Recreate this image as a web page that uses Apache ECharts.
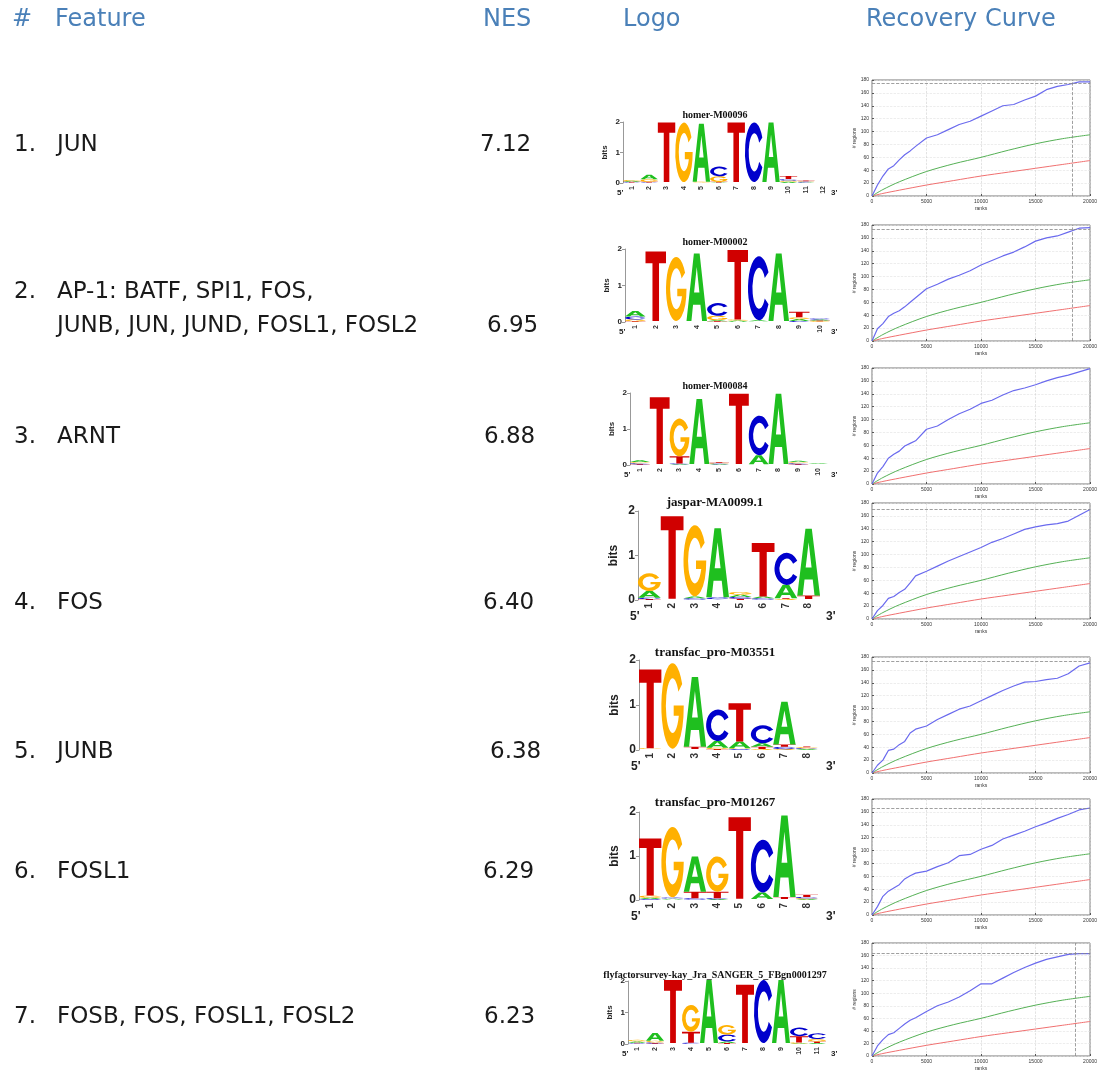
<!DOCTYPE html>
<html><head><meta charset="utf-8">
<script src="https://cdn.jsdelivr.net/npm/echarts@6/dist/echarts.min.js"></script>
<style>html,body{margin:0;padding:0;background:#fff}#c{width:1100px;height:1072px}</style>
</head><body><div id="c"></div>
<script>
// ---------------- DATA ----------------
const headers = ['#', 'Feature', 'NES', 'Logo', 'Recovery Curve'];
const rankLabels = ['1.', '2.', '3.', '4.', '5.', '6.', '7.'];
const features = [
  ['JUN'],
  ['AP-1: BATF, SPI1, FOS,', 'JUNB, JUN, JUND, FOSL1, FOSL2'],
  ['ARNT'],
  ['FOS'],
  ['JUNB'],
  ['FOSL1'],
  ['FOSB, FOS, FOSL1, FOSL2']
];
const nes = ['7.12', '6.95', '6.88', '6.40', '6.38', '6.29', '6.23'];
const motifTitles = ['homer-M00096', 'homer-M00002', 'homer-M00084', 'jaspar-MA0099.1',
  'transfac_pro-M03551', 'transfac_pro-M01267', 'flyfactorsurvey-kay_Jra_SANGER_5_FBgn0001297'];

// motif logos: information (bits) per position, columns [A, C, G, T]
const logo1 = [[0.03,0.02,0.03,0.02],[0.15,0.02,0.08,0.02],[0.01,0.01,0.01,1.95],[0.01,0.01,1.95,0.01],
  [1.9,0.01,0.02,0.01],[0.02,0.32,0.18,0.02],[0.01,0.01,0.01,1.95],[0.01,1.95,0.01,0.01],
  [1.95,0.01,0.01,0.01],[0.04,0.05,0.04,0.1],[0.02,0.02,0.02,0.02],[0.01,0.01,0.01,0.01]];
const logo2 = [[0.15,0.08,0.05,0.02],[0.01,0.01,0.01,1.9],[0.01,0.01,1.75,0.01],[1.85,0.01,0.01,0.01],
  [0.03,0.35,0.12,0.02],[0.03,0.01,0.03,1.9],[0.03,1.75,0.01,0.01],[1.85,0.01,0.01,0.01],
  [0.05,0.03,0.05,0.15],[0.03,0.03,0.02,0.02]];
const logo3 = [[0.05,0.03,0.03,0.02],[0.01,0.01,0.01,1.85],[0.02,0.02,1.05,0.2],[1.8,0.01,0.01,0.01],
  [0.02,0.02,0.02,0.02],[0.01,0.01,0.01,1.95],[0.25,1.1,0.01,0.01],[1.95,0.01,0.01,0.01],
  [0.04,0.03,0.03,0.02],[0.02,0.01,0.01,0.01]];
const logo4 = [[0.15,0.03,0.4,0.02],[0.01,0.01,0.01,1.85],[0.04,0.03,1.6,0.01],[1.55,0.04,0.01,0.01],
  [0.05,0.04,0.06,0.03],[0.04,0.03,0.01,1.2],[0.3,0.72,0.02,0.02],[1.5,0.01,0.01,0.08]];
const logo5 = [[0.01,0.01,0.02,1.75],[0.01,0.01,1.9,0.01],[1.55,0.01,0.01,0.05],[0.15,0.7,0.03,0.02],
  [0.15,0.02,0.02,0.85],[0.08,0.4,0.02,0.05],[0.95,0.05,0.02,0.05],[0.02,0.02,0.02,0.02]];
const logo6 = [[0.03,0.02,0.05,1.3],[0.02,0.03,1.6,0.01],[0.8,0.03,0.01,0.15],[0.02,0.02,0.8,0.15],
  [0.01,0.01,0.01,1.85],[0.15,1.2,0.01,0.01],[1.85,0.01,0.01,0.05],[0.02,0.03,0.02,0.05]];
const logo7 = [[0.04,0.02,0.05,0.02],[0.25,0.03,0.05,0.02],[0.01,0.01,0.01,2.0],[0.01,0.03,0.85,0.35],
  [2.0,0.01,0.01,0.01],[0.05,0.22,0.3,0.03],[0.01,0.01,0.01,1.85],[0.01,2.0,0.01,0.01],
  [2.0,0.01,0.01,0.01],[0.02,0.27,0.03,0.2],[0.03,0.18,0.08,0.05]];

// recovery curves (# regions recovered vs rank)
const rankPts = [0,500,1000,1500,2000,2500,3000,3500,4000,5000,6000,7000,8000,9000,10000,
  11000,12000,13000,14000,15000,16000,17000,18000,19000,20000];
const curve1 = [0,17,31,42,47,56,64,70,77,90,95,103,111,116,124,132,140,142,149,155,165,170,173,177,177];
const curve2 = [0,19,27,38,43,47,53,60,67,81,88,96,102,109,118,125,132,138,146,155,160,163,169,175,176];
const curve3 = [0,17,27,40,46,51,59,63,67,85,90,100,109,116,125,130,138,145,149,154,160,165,169,174,179];
const curve4 = [0,13,21,32,35,41,46,56,67,74,82,90,97,104,111,119,125,132,139,143,146,148,152,161,170];
const curve5 = [0,12,20,35,37,44,49,62,68,73,83,91,99,104,112,120,128,135,141,142,145,147,154,166,171];
const curve6 = [0,13,29,37,42,47,56,61,65,68,75,81,92,94,102,108,118,124,130,137,143,150,156,163,166];
const curve7 = [0,16,26,34,37,44,51,57,61,71,80,86,94,104,115,115,124,133,141,148,154,158,162,163,163];
const bgRanks = [0,1000,2500,5000,7500,10000,12500,15000,17500,20000];
const meanPlus2sd = [0,10,22,38,50,60,71,81,89,95];
const meanCurve = [0,4,9,17,24,31,37,43,49,55];
const maxRegions = [175,174,null,171,173,166,163];
const maxRank = [18400,18400,null,null,null,null,18600];
const rankTicks = ['0','5000','10000','15000','20000'];

// ---------------- LAYOUT / STYLE ----------------
const LETTER_COLORS = ['#1fbf1f', '#0000cc', '#ffb000', '#d00000'];
const LETTER_PATHS = [
  'M36,0 L64,0 L100,100 L76,100 L68,76 L32,76 L24,100 L0,100 Z M37,58 L63,58 L50,20 Z',
  'M93,25 A50,50 0 1 0 93,75 L76,66 A30,32 0 1 1 76,34 Z',
  'M93,25 A50,50 0 1 0 100,50 L55,50 L55,62 L78,62 A30,32 0 1 1 76,34 Z',
  'M0,0 L100,0 L100,17 L66,17 L66,100 L34,100 L34,17 L0,17 Z'
];
const logos = [logo1, logo2, logo3, logo4, logo5, logo6, logo7];
const curves = [curve1, curve2, curve3, curve4, curve5, curve6, curve7];
const logoBoxes = [[623,832,122,183],[625,830,249,322],[630,828,393,465],[638,820,511,600],
  [639,818,660,750],[639,818,812,900],[628,826,981,1044]];
const logoBig = [0,0,0,1,1,1,0];
const titleY = [115,242,386,503,653,803,975];
const curveTops = [80,225,368,503,657,799,943];
const rowY = [[145],[292,326],[437],[603],[752],[872],[1017]];
const nesX = [480,487,484,483,490,483,484];
const HEAD = '#4a80b8';
const FONT = '"DejaVu Sans", Verdana, sans-serif';

function renderLetter(params, api) {
  const k = api.value(0), li = api.value(1), y0 = api.value(2), y1 = api.value(3);
  const pb = api.coord([k, y0]), pt = api.coord([k, y1]);
  const w = api.size([1, 0])[0] * 1.0;
  const h = pb[1] - pt[1];
  if (h < 0.6) return;
  return {
    type: 'path',
    shape: { pathData: LETTER_PATHS[li], layout: 'cover', x: pb[0] - w / 2, y: pt[1], width: w, height: h },
    style: { fill: LETTER_COLORS[li] }
  };
}

const grid = [], xAxis = [], yAxis = [], series = [], elements = [];
function txt(x, y, text, size, color, align, font, weight) {
  elements.push({ type: 'text', x: x, y: y, silent: true,
    style: { text: text, fontSize: size, fontFamily: font || FONT, fontWeight: weight || 'normal',
      fill: color, align: align || 'left', verticalAlign: 'middle', textAlign: align || 'left', textVerticalAlign: 'middle' } });
}

// headers
const headX = [12, 55, 483, 623, 866];
headers.forEach((h, i) => txt(headX[i], 20, h, 24, HEAD));
// rows
features.forEach((lines, i) => {
  txt(14, rowY[i][0], rankLabels[i], 23, '#1a1a1a');
  lines.forEach((ln, j) => txt(57, rowY[i][j], ln, 23, '#1a1a1a'));
  txt(nesX[i], rowY[i][rowY[i].length - 1], nes[i], 23, '#1a1a1a');
});

// logos
logos.forEach((m, i) => {
  const [l, r, t, b] = logoBoxes[i];
  const big = logoBig[i];
  grid.push({ left: l, top: t, width: r - l, height: b - t });
  xAxis.push({ type: 'category', gridIndex: i, data: m.map((_, k) => String(k + 1)), boundaryGap: true,
    axisLine: { show: false }, axisTick: { show: false },
    axisLabel: { rotate: 90, fontSize: big ? 10 : 7, fontWeight: 'bold', color: '#333', margin: 3, interval: 0, fontFamily: 'Liberation Sans' } });
  yAxis.push({ type: 'value', gridIndex: i, min: 0, max: 2, interval: 1, splitLine: { show: false },
    axisLine: { show: true, lineStyle: { color: '#999' } },
    axisTick: { show: true, length: 3, lineStyle: { color: '#999' } },
    axisLabel: { fontSize: big ? 12 : 8, fontWeight: 'bold', color: '#222', margin: 3, fontFamily: 'Liberation Sans' },
    name: 'bits', nameLocation: 'middle', nameRotate: 90, nameGap: big ? 18 : 14,
    nameTextStyle: { fontSize: big ? 12 : 8, fontWeight: 'bold', color: '#222', fontFamily: 'Liberation Sans' } });
  const data = [];
  m.forEach((col, k) => {
    const order = [0, 1, 2, 3].sort((a, c) => col[a] - col[c]);
    let y = 0;
    order.forEach(li => { data.push([k, li, y, y + col[li]]); y += col[li]; });
  });
  series.push({ type: 'custom', xAxisIndex: i, yAxisIndex: i, renderItem: renderLetter, data: data,
    encode: { x: 0, y: [2, 3] }, silent: true, animation: false });
  txt(715, titleY[i], motifTitles[i], big ? 13 : 10, '#111', 'center', '"Liberation Serif", serif', 'bold');
  const py = b + (big ? 17 : 10);
  txt(l - (big ? 8 : 6), py, "5'", big ? 12 : 8, '#222', 'left', 'Liberation Sans', 'bold');
  txt(big ? 826 : 831, py, "3'", big ? 12 : 8, '#222', 'left', 'Liberation Sans', 'bold');
});

// recovery curves
curves.forEach((c, i) => {
  const gi = 7 + i;
  grid.push({ left: 872, top: curveTops[i], width: 223, height: 116, show: true,
    borderColor: '#777', borderWidth: 1, backgroundColor: '#fff' });
  xAxis.push({ type: 'value', gridIndex: gi, min: 0, max: 20000, interval: 5000,
    name: 'ranks', nameLocation: 'middle', nameGap: 10, nameTextStyle: { fontSize: 5, color: '#333' },
    axisLine: { show: false }, axisTick: { inside: true, length: 2, lineStyle: { color: '#555' } },
    axisLabel: { fontSize: 5, margin: 3, color: '#333', showMaxLabel: true, showMinLabel: true,
      formatter: v => rankTicks[Math.round(v / 5000)] },
    splitLine: { show: true, lineStyle: { type: 'dashed', color: '#d0d0d0', width: 0.6 } } });
  yAxis.push({ type: 'value', gridIndex: gi, min: 0, max: 180, interval: 20,
    name: '# regions', nameLocation: 'middle', nameRotate: 90, nameGap: 12,
    nameTextStyle: { fontSize: 5, color: '#333' },
    axisLine: { show: false }, axisTick: { inside: true, length: 2, lineStyle: { color: '#555' } },
    axisLabel: { fontSize: 5, margin: 3, color: '#333' },
    splitLine: { show: true, lineStyle: { type: 'dashed', color: '#e0e0e0', width: 0.6 } } });
  const ml = [];
  if (maxRegions[i] != null) ml.push({ yAxis: maxRegions[i] });
  if (maxRank[i] != null) ml.push({ xAxis: maxRank[i] });
  series.push({ type: 'line', xAxisIndex: gi, yAxisIndex: gi, data: bgRanks.map((x, k) => [x, meanCurve[k]]),
    showSymbol: false, smooth: 0.3, lineStyle: { color: '#f07070', width: 1 }, animation: false, silent: true });
  series.push({ type: 'line', xAxisIndex: gi, yAxisIndex: gi, data: bgRanks.map((x, k) => [x, meanPlus2sd[k]]),
    showSymbol: false, smooth: 0.3, lineStyle: { color: '#55b055', width: 1 }, animation: false, silent: true });
  series.push({ type: 'line', xAxisIndex: gi, yAxisIndex: gi, data: rankPts.map((x, k) => [x, c[k]]),
    showSymbol: false, lineStyle: { color: '#6a6aee', width: 1.2 }, animation: false, silent: true,
    markLine: { silent: true, symbol: 'none', label: { show: false },
      lineStyle: { type: 'dashed', color: '#888', width: 0.8 }, data: ml } });
});

const chart = echarts.init(document.getElementById('c'), null, { renderer: 'canvas' });
chart.setOption({
  backgroundColor: '#fff',
  animation: false,
  grid: grid, xAxis: xAxis, yAxis: yAxis, series: series,
  graphic: { elements: elements }
});
</script></body></html>
